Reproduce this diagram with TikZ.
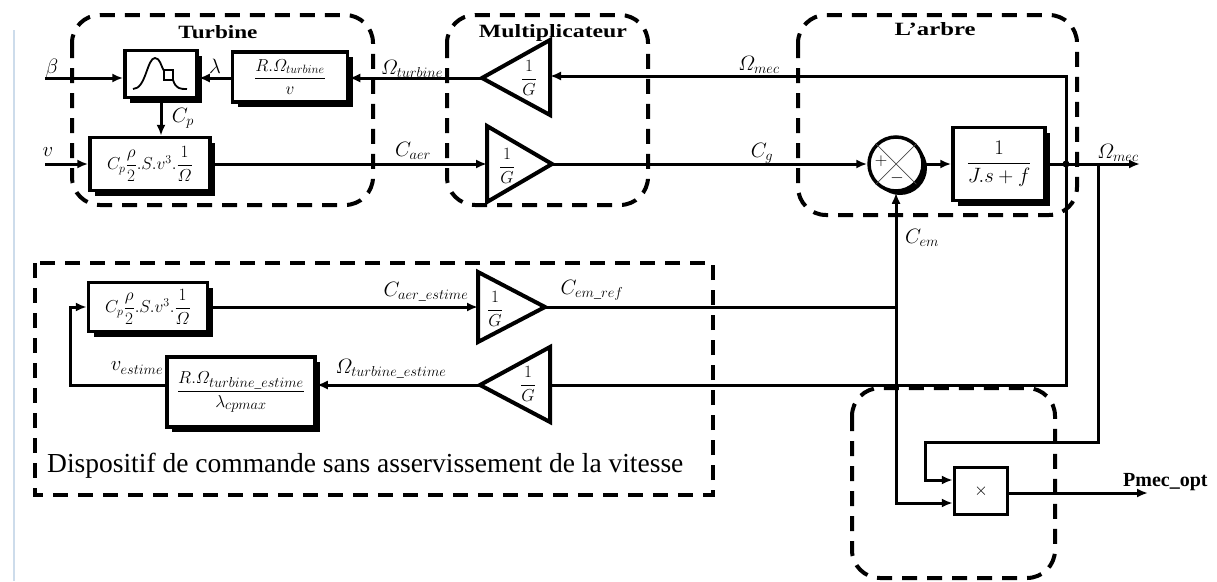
\documentclass[tikz,border=0pt]{standalone}
\usepackage{amsmath}
\usepackage[no-math]{fontspec}
\setmainfont{Liberation Serif}
\usetikzlibrary{arrows.meta,shadows}
\definecolor{leftbar}{RGB}{205,220,235}
\begin{document}
\begin{tikzpicture}[x=1pt,y=-1pt,
  conn/.style={line width=3pt},
  arr/.style={line width=3pt,-{Latex[length=11pt,width=9pt]}},
  blk/.style={draw,line width=3.5pt,fill=white,inner sep=0pt,
    drop shadow={shadow xshift=5pt,shadow yshift=-5pt,fill=black,opacity=1}},
  grp/.style={draw,line width=4pt,dash pattern=on 15pt off 10pt,rounded corners=28pt},
  tri/.style={draw,line width=4pt,fill=white,line join=miter},
  lab/.style={inner sep=0pt,font=\fontsize{20}{22}\selectfont},
  gl/.style={inner sep=0pt,font=\fontsize{19}{21}\selectfont},
  ttl/.style={inner sep=0pt,anchor=base}
]
\useasboundingbox (0,0) rectangle (1217,581);
\draw[leftbar,line width=2pt] (14,30) -- (14,581);

% group boxes
\draw[grp] (72,15) rectangle (373,205);
\draw[grp] (447,15) rectangle (648,205);
\draw[grp] (798,15) rectangle (1077,215);
\draw[grp,rounded corners=0pt] (35,263) rectangle (713,495);
\draw[grp] (852,388) rectangle (1055,578);

\node[ttl] (tT) at (218,38) {\resizebox{79pt}{13pt}{\bfseries Turbine}};
\node[ttl] (tM) at (553,37) {\resizebox{148pt}{13pt}{\bfseries Multiplicateur}};
\node[ttl] (tL) at (935,35) {\resizebox{81pt}{13pt}{\bfseries L’arbre}};

% blocks
\node[blk,minimum width=72pt,minimum height=47pt] (lut) at (161,74) {};
\draw[line width=1.8pt] (133,89) .. controls (146,89) and (147,58) .. (155,58)
  .. controls (160,58) and (161,66) .. (164,71);
\draw[line width=1.4pt] (164,70) rectangle (173,80);
\draw[line width=1.8pt] (173,80) .. controls (176,89) and (180,89) .. (187,89);

\node[blk,minimum width=115pt,minimum height=50pt,font=\fontsize{18}{20}\selectfont] (rblk) at (290,77)
  {$\dfrac{R.\varOmega_{turbine}}{\;\;v\;\;}$};
\node[blk,minimum width=120pt,minimum height=53pt,font=\fontsize{17}{19}\selectfont] (cpblk) at (150,164)
  {$C_p\dfrac{\rho}{2}.S.v^3.\dfrac{1}{\varOmega}$};
\node[draw,circle,line width=3.5pt,fill=white,minimum size=54pt,inner sep=0pt,
  drop shadow={shadow xshift=4pt,shadow yshift=-4pt,fill=black,opacity=1}] (sum) at (896,164) {};
\draw[line width=0.7pt,black!70] (sum.north west) -- (sum.south east) (sum.north east) -- (sum.south west);
\node[inner sep=0pt,font=\fontsize{16}{16}\selectfont] (splus) at (881,161) {$+$};
\node[inner sep=0pt,font=\fontsize{16}{16}\selectfont] (sminus) at (897,178) {$-$};
\node[blk,minimum width=92pt,minimum height=73pt,font=\fontsize{21}{23}\selectfont] (jblk) at (999,164)
  {$\dfrac{1}{J.s+f}$};
\node[blk,minimum width=119pt,minimum height=49pt,font=\fontsize{17}{19}\selectfont] (cpest) at (148,307)
  {$C_p\dfrac{\rho}{2}.S.v^3.\dfrac{1}{\varOmega}$};
\node[blk,minimum width=148pt,minimum height=70pt,font=\fontsize{19}{21}\selectfont] (rest) at (241,392)
  {$\dfrac{R.\varOmega_{turbine\_estime}}{\lambda_{cpmax}}$};
\node[draw,line width=3.5pt,fill=white,minimum width=53pt,minimum height=47pt,inner sep=0pt,
  font=\fontsize{17}{17}\selectfont] (mult) at (981,491) {$\times$};

% gain triangles
\coordinate (g1a) at (482,78);  \coordinate (g1b) at (550,76);
\coordinate (g2a) at (552,164); \coordinate (g2b) at (487,164);
\coordinate (g3a) at (545,307); \coordinate (g3b) at (478,307);
\coordinate (g4a) at (480,385); \coordinate (g4b) at (550,385);

% connectors
\coordinate (bin) at (45,78);
\coordinate (vin) at (45,164);
\coordinate (jm) at (1066,164);
\coordinate (jo) at (1098,164);
\coordinate (out) at (1140,164);
\coordinate (fb) at (70,385);
\coordinate (jc) at (896,307);
\coordinate (b1) at (1098,442);
\coordinate (b2) at (925,442);
\coordinate (pout) at (1148,493);

\draw[arr] (bin) -- (bin -| lut.west);
\draw[arr] (rblk.west |- bin) -- (lut.east |- bin);
\draw[arr] (g1a) -- (g1a -| rblk.east);
\draw[arr] (lut.south) -- (lut.south |- cpblk.north);
\draw[arr] (vin) -- (cpblk.west);
\draw[arr] (cpblk.east) -- (g2b);
\draw[arr] (g2a) -- (sum.west);
\draw[arr] (sum.east) -- (jblk.west);
\draw[arr] (jblk.east) -- (out);
\draw[arr] (jm) |- (g1b);
\draw[conn] (jm) |- (g4b);
\draw[arr] (g4a) -- (g4a -| rest.east);
\draw[arr] (g4a -| rest.west) -- (fb) |- (cpest.west);
\draw[arr] (cpest.east) -- (g3b);
\draw[conn] (g3a) -- (jc);
\draw[arr] (jc) -- (sum.south);
\draw[arr] (jc) |- ([yshift=-12pt]mult.west);
\draw[arr] (jo) -- (b1) -- (b2) |- ([yshift=11pt]mult.west);
\draw[arr] (mult.east |- pout) -- (pout);
\fill (jm) circle (3.5pt);

\draw[tri] (550,40) -- (550,115) -- (g1a) -- cycle;
\draw[tri] (487,126) -- (487,202) -- (g2a) -- cycle;
\draw[tri] (478,272) -- (478,342) -- (g3a) -- cycle;
\draw[tri] (550,347) -- (550,422) -- (g4a) -- cycle;
\node[gl] (g1l) at (529,78) {$\dfrac{1}{G}$};
\node[gl] (g2l) at (507,166) {$\dfrac{1}{G}$};
\node[gl] (g3l) at (495,309) {$\dfrac{1}{G}$};
\node[gl] (g4l) at (528,384) {$\dfrac{1}{G}$};

% labels
\node[lab] (lbeta) at (52,68) {$\beta$};
\node[lab] (lv) at (48,152) {$v$};
\node[lab] (llam) at (215,66) {$\lambda$};
\node[lab] (lcp) at (183,118) {$C_p$};
\node[lab] (lot) at (412,69) {$\varOmega_{turbine}$};
\node[lab] (lcaer) at (413,151) {$C_{aer}$};
\node[lab] (lcg) at (762,153) {$C_g$};
\node[lab] (lom1) at (759,65) {$\varOmega_{mec}$};
\node[lab] (lom2) at (1118,153) {$\varOmega_{mec}$};
\node[lab] (lcem) at (922,238) {$C_{em}$};
\node[lab] (lcae) at (426,292) {$C_{aer\_estime}$};
\node[lab] (lcer) at (592,290) {$C_{em\_ref}$};
\node[lab] (lote) at (391,369) {$\varOmega_{turbine\_estime}$};
\node[lab] (lve) at (137,368) {$v_{estime}$};
\node[anchor=base west,inner sep=0pt,font=\fontsize{27.5}{30}\selectfont] (ldisp) at (47,472)
  {Dispositif de commande sans asservissement de la vitesse};
\node[anchor=base west,inner sep=0pt,font=\fontsize{20}{22}\selectfont\bfseries] (lp) at (1123,486) {Pmec\_opt};
\end{tikzpicture}
\end{document}
